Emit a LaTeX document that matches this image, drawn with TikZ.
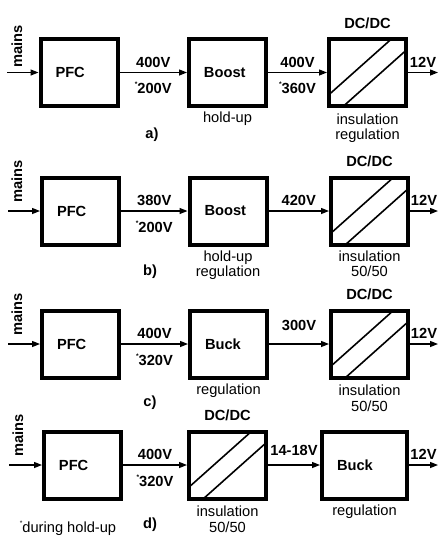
\documentclass[tikz,border=0pt]{standalone}
\usepackage{fontspec}
\setmainfont{Liberation Sans}
\usetikzlibrary{arrows.meta,calc,positioning}
\newcommand{\hmark}{\raisebox{5pt}{\fontsize{5}{5}\selectfont*}}

\begin{document}
\begin{tikzpicture}[
x=0.75pt, y=-0.75pt,
every node/.style={font=\fontsize{11}{11.5}\selectfont},
block/.style={draw, line width=3pt, minimum width=57.75pt, minimum height=50.25pt,
  text width=35.25pt, align=left, font=\fontsize{11}{11.5}\selectfont\bfseries},
wide/.style={minimum width=63.75pt, text width=41.25pt},
conv/.style={block, path picture={
  \draw[line width=1.2pt]
    ($(path picture bounding box.south west)!0.17!(path picture bounding box.north west)$) --
    ($(path picture bounding box.north west)!0.81!(path picture bounding box.north east)$);
  \draw[line width=1.2pt]
    ($(path picture bounding box.south west)!0.19!(path picture bounding box.south east)$) --
    ($(path picture bounding box.south east)!0.83!(path picture bounding box.north east)$);
}},
flow/.style={line width=1pt, -{Triangle[length=6pt,width=4.5pt]}},
volt/.style={font=\fontsize{11}{11.5}\selectfont\bfseries},
mains/.style={volt, rotate=90, anchor=west},
note/.style={align=center, inner sep=1pt}
]
\useasboundingbox (0,0) rectangle (438,537);

% a)
\node[block] (pfca) at (79,72.5) {PFC};
\node[block] (boosta) at (227.5,72.5) {Boost};
\node[conv] (dcdca) at (367.5,72.5) {};
\node[volt, above=3pt of dcdca] (dca) {DC/DC};
\coordinate (ina) at (7,72.5);
\coordinate (outa) at (438,72.5);
\node[mains] (mainsa) at (17,72) {mains};
\draw[flow] (ina) -- (pfca);
\draw[flow] (pfca) -- node[volt, above] (va1) {400V} node[volt, below=3.5pt] (va2) {\hmark200V} (boosta);
\draw[flow] (boosta) -- node[volt, above] (va3) {400V} node[volt, below=3.5pt] (va4) {\hmark360V} (dcdca);
\draw[flow] (dcdca) -- node[volt, above] (va5) {12V} (outa);
\node[note, below=2pt of boosta] (nba) {hold-up};
\node[note, below=3pt of dcdca] (nda) {insulation\\regulation};
\node[volt] (capa) at (152,135) {a)};

% b)
\node[block] (pfcb) at (80.5,211) {PFC};
\node[block] (boostb) at (228,211) {Boost};
\node[conv] (dcdcb) at (369.5,211) {};
\node[volt, above=3pt of dcdcb] (dcb) {DC/DC};
\coordinate (inb) at (8,211);
\coordinate (outb) at (438,211);
\node[mains] (mainsb) at (17,207) {mains};
\draw[flow] (inb) -- (pfcb);
\draw[flow] (pfcb) -- node[volt, above] (vb1) {380V} node[volt, below=3.5pt] (vb2) {\hmark200V} (boostb);
\draw[flow] (boostb) -- node[volt, above] (vb3) {420V} (dcdcb);
\draw[flow] (dcdcb) -- node[volt, above] (vb5) {12V} (outb);
\node[note, below=2pt of boostb] (nbb) {hold-up\\regulation};
\node[note, below=2pt of dcdcb] (ndb) {insulation\\50/50};
\node[volt] (capb) at (150,272) {b)};

% c)
\node[block] (pfcc) at (80.5,344) {PFC};
\node[block] (buckc) at (228.5,344) {Buck};
\node[conv] (dcdcc) at (369.5,344) {};
\node[volt, above=3pt of dcdcc] (dcc) {DC/DC};
\coordinate (inc) at (8,344);
\coordinate (outc) at (438,344);
\node[mains] (mainsc) at (17,340) {mains};
\draw[flow] (inc) -- (pfcc);
\draw[flow] (pfcc) -- node[volt, above] (vc1) {400V} node[volt, below=3.5pt] (vc2) {\hmark320V} (buckc);
\draw[flow] (buckc) -- node[volt, above=6pt] (vc3) {300V} (dcdcc);
\draw[flow] (dcdcc) -- node[volt, above] (vc5) {12V} (outc);
\node[note, below=2pt of buckc] (nbc) {regulation};
\node[note, below=3pt of dcdcc] (ndc) {insulation\\50/50};
\node[volt] (capc) at (150,403) {c)};

% d)
\node[block] (pfcd) at (82.5,465) {PFC};
\node[conv] (dcdcd) at (227.5,465) {};
\node[block, wide] (buckd) at (364.5,465) {Buck};
\node[volt, above=3pt of dcdcd] (dcd) {DC/DC};
\coordinate (ind) at (9,465);
\coordinate (outd) at (438,465);
\node[mains] (mainsd) at (18,461) {mains};
\draw[flow] (ind) -- (pfcd);
\draw[flow] (pfcd) -- node[volt, above] (vd1) {400V} node[volt, below=3.5pt] (vd2) {\hmark320V} (dcdcd);
\draw[flow] (dcdcd) -- node[volt, above=3pt] (vd3) {14-18V} (buckd);
\draw[flow] (buckd) -- node[volt, above] (vd5) {12V} (outd);
\node[note, below=3pt of dcdcd] (ndd) {insulation\\50/50};
\node[note, below=2pt of buckd] (nbd) {regulation};
\node[volt] (capd) at (150,525) {d)};
\node[note] (hold) at (68,528) {\hmark during hold-up};
\end{tikzpicture}
\end{document}
